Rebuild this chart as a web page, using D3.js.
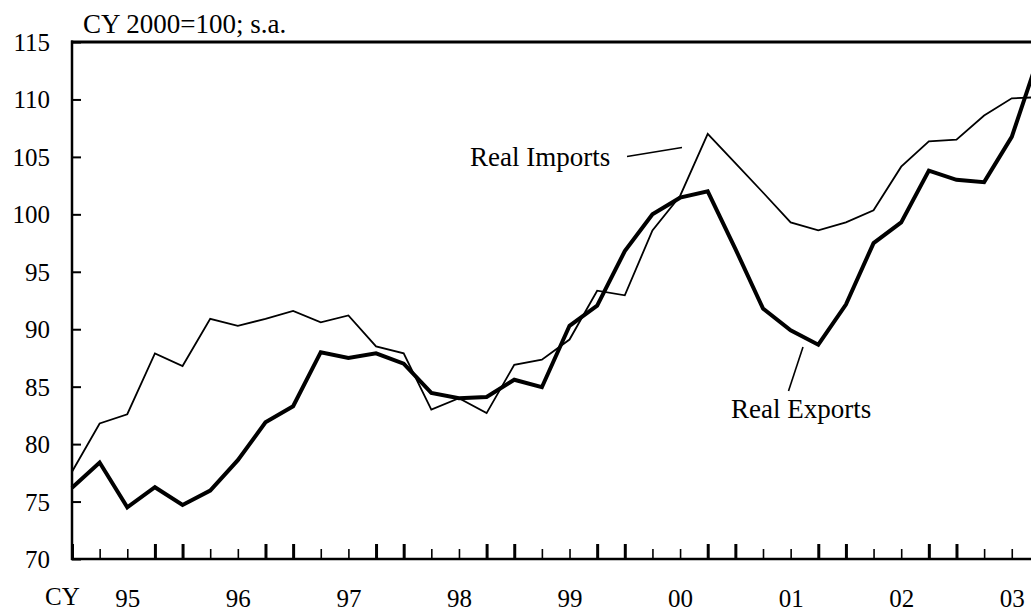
<!DOCTYPE html>
<html>
<head>
<meta charset="utf-8">
<script src="https://cdn.jsdelivr.net/npm/d3@7"></script>
<style>
  body { margin: 0; background: #fff; }
  text { font-family: "Liberation Serif", "Times New Roman", serif; fill: #000; }
</style>
</head>
<body>
<div class="chart"></div>
<script>
// quarters, 95Q1 .. 03Q4
var quarters = d3.range(36).map(function (i) {
    var y = (95 + Math.floor(i / 4)) % 100;
    return (y < 10 ? "0" + y : "" + y) + "Q" + (i % 4 + 1);
});

// index, CY 2000=100, s.a.
var realImports = [77.6, 81.8, 82.6, 87.9, 86.8, 90.9, 90.3, 90.9, 91.6, 90.6, 91.2, 88.5,
    87.9, 83.0, 84.0, 82.7, 86.9, 87.35, 89.1, 93.35, 92.95, 98.6, 101.6, 107.0,
    104.45, 101.9, 99.3, 98.6, 99.3, 100.35, 104.15, 106.35, 106.5, 108.6, 110.1, 110.2];

var realExports = [76.2, 78.4, 74.5, 76.25, 74.7, 75.95, 78.6, 81.9, 83.3, 88.0, 87.5, 87.9,
    87.0, 84.45, 84.0, 84.1, 85.6, 84.95, 90.3, 92.05, 96.8, 100.0, 101.45, 102.0,
    97.0, 91.8, 89.9, 88.65, 92.15, 97.5, 99.3, 103.8, 103.0, 102.8, 106.75, 113.9];

var yearLabels = ["95", "96", "97", "98", "99", "00", "01", "02", "03"];
var yTicks = [70, 75, 80, 85, 90, 95, 100, 105, 110, 115];

var width = 1031, height = 612;
var plotLeft = 72, plotTop = 42, plotBottom = 559, step = 27.64;

var svg = d3.select(".chart").append("svg")
    .attr("width", width)
    .attr("height", height);

var xScale = d3.scaleLinear().domain([0, quarters.length - 1])
    .range([plotLeft, plotLeft + (quarters.length - 1) * step]);
var yScale = d3.scaleLinear().domain([70, 115]).range([plotBottom, plotTop]);

// x ticks: thick at Q4 and Q1, thin otherwise
var isThick = function (d) { return d % 4 === 0 || d % 4 === 3; };
var xAxis = d3.axisBottom(xScale)
    .tickValues(d3.range(quarters.length))
    .tickSize(0)
    .tickFormat("");
var gx = svg.append("g")
    .attr("transform", "translate(0," + plotBottom + ")")
    .call(xAxis);
gx.select(".domain").remove();
gx.selectAll(".tick line")
    .attr("y2", function (d) { return isThick(d) ? -15 : -10; })
    .attr("stroke", "#000")
    .attr("stroke-width", function (d) { return isThick(d) ? 3 : 1.6; });

// year labels sit under the third quarter of each year
var labelAxis = d3.axisBottom(xScale)
    .tickValues(yearLabels.map(function (d, i) { return 2 + i * 4; }))
    .tickSize(0)
    .tickPadding(30)
    .tickFormat(function (d) { return yearLabels[(d - 2) / 4]; });
var gl = svg.append("g")
    .attr("transform", "translate(0," + plotBottom + ")")
    .call(labelAxis);
gl.select(".domain").remove();
gl.selectAll("text").style("font-size", "25px").style("font-family", "Liberation Serif");

svg.append("text")
    .attr("x", 45).attr("y", 605)
    .style("font-size", "25px")
    .text("CY");

// y axis, ticks pointing inward
var yAxis = d3.axisLeft(yScale)
    .tickValues(yTicks)
    .tickSizeInner(-9)
    .tickSizeOuter(0)
    .tickPadding(22);
var gy = svg.append("g")
    .attr("transform", "translate(" + plotLeft + ",0)")
    .call(yAxis);
gy.select(".domain").remove();
gy.selectAll(".tick line").attr("stroke", "#000").attr("stroke-width", 2);
gy.selectAll(".tick text")
    .style("font-size", "25px")
    .style("font-family", "Liberation Serif")
    .attr("dy", "0.34em");

// frame
svg.append("line")
    .attr("x1", plotLeft).attr("x2", plotLeft).attr("y1", plotTop - 1.5).attr("y2", plotBottom + 1)
    .attr("stroke", "#000").attr("stroke-width", 2.5);
svg.append("line")
    .attr("x1", plotLeft - 1).attr("x2", width).attr("y1", plotBottom).attr("y2", plotBottom)
    .attr("stroke", "#000").attr("stroke-width", 2.5);
svg.append("line")
    .attr("x1", plotLeft - 1).attr("x2", width).attr("y1", plotTop).attr("y2", plotTop)
    .attr("stroke", "#000").attr("stroke-width", 3);

svg.append("text")
    .attr("x", 83).attr("y", 33)
    .style("font-size", "27px")
    .text("CY 2000=100; s.a.");

// lines
var line = d3.line()
    .x(function (d, i) { return xScale(i); })
    .y(function (d) { return yScale(d); });

svg.append("path")
    .datum(realImports)
    .attr("fill", "none")
    .attr("stroke", "#000")
    .attr("stroke-width", 1.8)
    .attr("d", line);

svg.append("path")
    .datum(realExports)
    .attr("fill", "none")
    .attr("stroke", "#000")
    .attr("stroke-width", 4)
    .attr("d", line);

// annotations
svg.append("text")
    .attr("x", 470).attr("y", 166)
    .style("font-size", "27px")
    .text("Real Imports");
svg.append("line")
    .attr("x1", 627).attr("y1", 156.5).attr("x2", 682).attr("y2", 147.5)
    .attr("stroke", "#000").attr("stroke-width", 1.6);

svg.append("text")
    .attr("x", 731).attr("y", 418)
    .style("font-size", "27px")
    .text("Real Exports");
svg.append("line")
    .attr("x1", 803).attr("y1", 347).attr("x2", 788.5).attr("y2", 391)
    .attr("stroke", "#000").attr("stroke-width", 1.6);
</script>
</body>
</html>
